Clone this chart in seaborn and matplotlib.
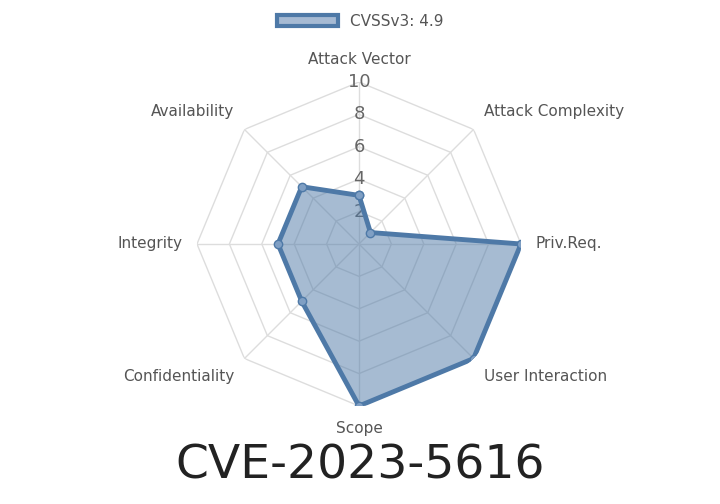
import numpy as np
import matplotlib
matplotlib.use("Agg")
import matplotlib.pyplot as plt
import seaborn as sns

sns.set_theme(style="white")
plt.rcParams['font.family'] = ['DejaVu Sans']

labels = ["Attack Vector", "Attack Complexity", "Priv.Req.", "User Interaction",
          "Scope", "Confidentiality", "Integrity", "Availability"]
values = [3, 1, 10, 10, 10, 5, 5, 5]
ticks = [2, 4, 6, 8, 10]
series_name = "CVSSv3: 4.9"
title = "CVE-2023-5616"

n = len(labels)
ang = np.linspace(0, 2*np.pi, n, endpoint=False)
angc = np.append(ang, ang[0])

fig = plt.figure(figsize=(7.2, 5.04), dpi=100)
ax = fig.add_axes([0.2736, 0.1944, 0.45, 0.643], projection="polar")
ax.set_theta_zero_location("N")
ax.set_theta_direction(-1)
ax.set_ylim(0, 10)
ax.grid(False)
ax.spines["polar"].set_visible(False)
ax.set_xticks([])
ax.set_yticks([])

for t in ticks:
    ax.plot(angc, [t]*(n+1), color="#dddddd", lw=1, zorder=1)
for a in ang:
    ax.plot([a, a], [0, 10], color="#dddddd", lw=1, zorder=1)
for t in ticks:
    ax.text(0, t, str(t), ha="center", va="center", fontsize=13, color="#666666", zorder=2)

vc = values + values[:1]
ax.fill(angc, vc, color="#4e79a7", alpha=0.5, zorder=3)
line, = ax.plot(angc, vc, color="#4e79a7", lw=3.5, marker="o", markersize=6,
                markerfacecolor="#7f9fc4", markeredgecolor="#4e79a7", zorder=4)

for a, l in zip(ang, labels):
    s, c = np.sin(a), np.cos(a)
    ha = "center" if abs(s) < 0.1 else ("left" if s > 0 else "right")
    va = "center" if abs(c) < 0.1 else ("bottom" if c > 0 else "top")
    ax.text(a, 10.9, l, ha=ha, va=va, fontsize=11, color="#555555")

from matplotlib.patches import Patch
fig.legend(handles=[Patch(facecolor="#a6bad3", edgecolor="#4e79a7", lw=3)],
           labels=[series_name], loc="upper center", bbox_to_anchor=(0.5, 1.0),
           frameon=False, fontsize=11, labelcolor="#555555", handlelength=4)
fig.text(0.5, 0.075, title, ha="center", va="center", fontsize=34, color="#222222")
fig.savefig("out.png", dpi=100)
